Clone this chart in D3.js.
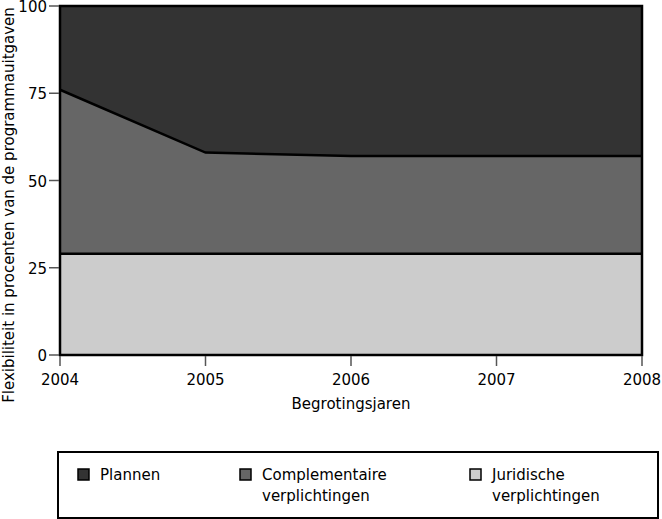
<!DOCTYPE html>
<html><head><meta charset="utf-8">
<script src="https://cdn.jsdelivr.net/npm/d3@7"></script>
<style>body{margin:0;background:#fff}svg{display:block}text{font-family:"DejaVu Sans",sans-serif;fill:#000}</style>
</head><body><svg id="c" width="662" height="519"></svg>
<script>
const years = [2004, 2005, 2006, 2007, 2008];
const juridische = [29, 29, 29, 29, 29];
const complementaire = [47, 29, 28, 28, 28];
const plannen = [24, 42, 43, 43, 43];
const yTicks = [0, 25, 50, 75, 100];
const seriesNames = ["Plannen", "Complementaire verplichtingen", "Juridische verplichtingen"];
const colors = ["#333333", "#666666", "#cccccc"];

const svg = d3.select("#c");
const x = d3.scaleLinear().domain([2004, 2008]).range([60, 642]);
const y = d3.scaleLinear().domain([0, 100]).range([355, 6]);
const fs = 15;

const rows = years.map((yr, i) => ({year: yr, jur: juridische[i], comp: complementaire[i], plan: plannen[i]}));
const stack = d3.stack().keys(["jur", "comp", "plan"])(rows);
const fillFor = {jur: colors[2], comp: colors[1], plan: colors[0]};
const area = d3.area().x(d => x(d.data.year)).y0(d => y(d[0])).y1(d => y(d[1]));
svg.selectAll("path.a").data(stack).join("path").attr("class", "a")
  .attr("d", area).attr("fill", d => fillFor[d.key]);
const line = d3.line().x(d => x(d.data.year)).y(d => y(d[1]));
svg.selectAll("path.l").data(stack.slice(0, 2)).join("path").attr("class", "l")
  .attr("d", line).attr("fill", "none").attr("stroke", "#000").attr("stroke-width", 2.5);
svg.append("rect").attr("x", x(2004)).attr("y", y(100)).attr("width", x(2008) - x(2004)).attr("height", y(0) - y(100))
  .attr("fill", "none").attr("stroke", "#000").attr("stroke-width", 2.5);

// y axis
const ya = svg.append("g");
yTicks.forEach(t => {
  ya.append("line").attr("x1", 49).attr("x2", 59).attr("y1", y(t)).attr("y2", y(t)).attr("stroke", "#555").attr("stroke-width", 1.5);
  ya.append("text").attr("x", 47).attr("y", y(t) + 6).attr("text-anchor", "end").attr("font-size", fs).text(t);
});
// x axis
const xa = svg.append("g");
years.forEach(t => {
  xa.append("line").attr("x1", x(t)).attr("x2", x(t)).attr("y1", 356).attr("y2", 366).attr("stroke", "#555").attr("stroke-width", 1.5);
  xa.append("text").attr("x", x(t)).attr("y", 385).attr("text-anchor", "middle").attr("font-size", fs).text(t);
});
svg.append("text").attr("x", 351).attr("y", 409).attr("text-anchor", "middle").attr("font-size", fs).text("Begrotingsjaren");
svg.append("text").attr("transform", "translate(14,205) rotate(-90)").attr("text-anchor", "middle").attr("font-size", fs)
  .text("Flexibiliteit in procenten van de programmauitgaven");

// legend
svg.append("rect").attr("x", 58).attr("y", 452).attr("width", 600).attr("height", 66).attr("fill", "none").attr("stroke", "#000").attr("stroke-width", 2);
const lx = [78, 240, 470];
seriesNames.forEach((n, i) => {
  svg.append("rect").attr("x", lx[i]).attr("y", 469).attr("width", 11).attr("height", 11).attr("fill", colors[i]).attr("stroke", "#000").attr("stroke-width", 1.5);
  const words = n.split(" ");
  const tx = svg.append("text").attr("x", lx[i] + 22).attr("y", 480).attr("font-size", fs);
  words.forEach((w, j) => tx.append("tspan").attr("x", lx[i] + 22).attr("dy", j === 0 ? 0 : 21).text(w));
});
</script></body></html>
